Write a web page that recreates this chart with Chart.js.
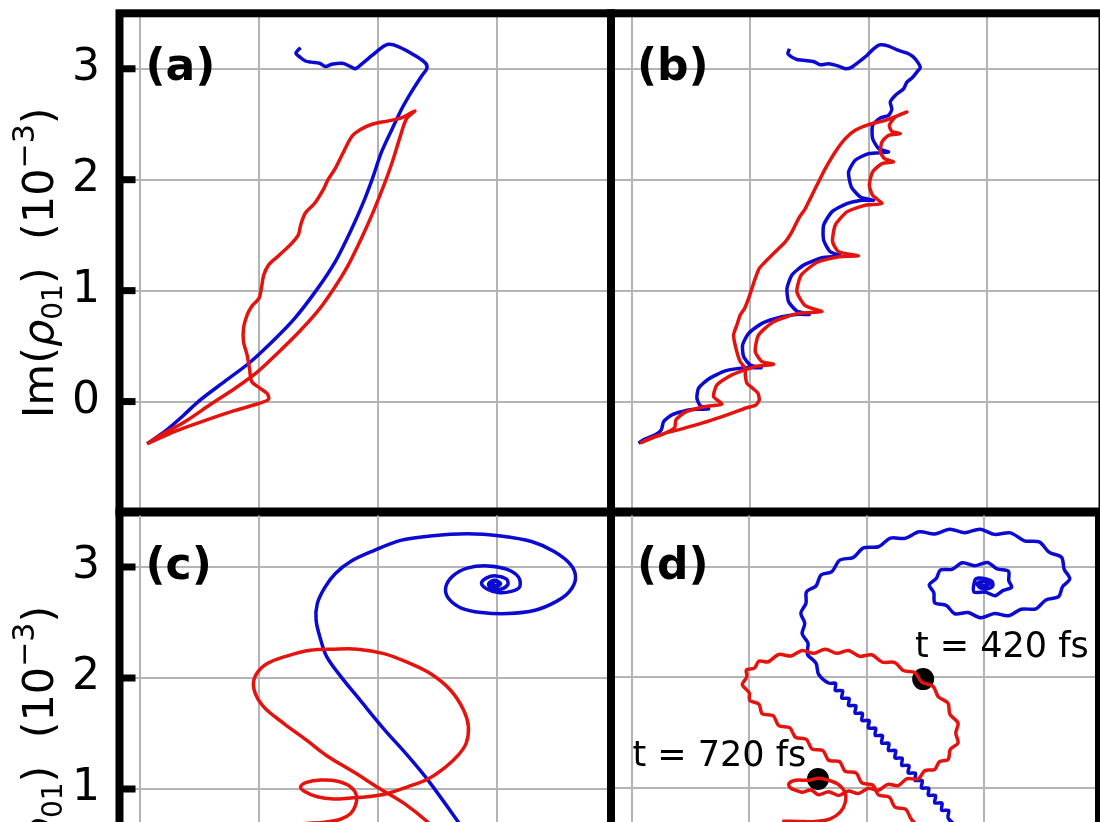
<!DOCTYPE html>
<html><head><meta charset="utf-8">
<script src="https://cdn.jsdelivr.net/npm/chart.js@4.4.1/dist/chart.umd.min.js"></script>
<style>
html,body{margin:0;padding:0;background:#fff;overflow:hidden;width:1100px;height:822px;}
#wrap{position:relative;width:1100px;height:822px;overflow:hidden;background:#fff;}
#wrap canvas{position:absolute;left:0;top:0;}
</style></head><body><div id="wrap">
<canvas id="pa" width="1110" height="1020"></canvas>
<canvas id="pb" width="1110" height="1020"></canvas>
<canvas id="pc" width="1110" height="1020"></canvas>
<canvas id="pd" width="1110" height="1020"></canvas>
</div>
<script>
// ---------- data (x: Re, y: Im(rho01) in 1e-3) ----------
const yTicks = [0, 1, 2, 3];
const xTicks = [0, 1, 2, 3];
const panelLabels = ['(a)', '(b)', '(c)', '(d)'];
const noteText = ['t = 420 fs', 't = 720 fs'];
const noteAt = [[2.41, 2.185], [0.006, 1.197]];
const dMarkers = [[2.48, 1.984], [1.585, 1.081]];

const aBlue = [[0.06,-0.38],[0.22,-0.26],[0.36,-0.13],[0.49,0.00],[0.71,0.18],[0.92,0.35],[1.13,0.56],[1.30,0.75],[1.48,1.00],[1.64,1.26],[1.78,1.56],[1.89,1.83],[1.95,2.00],[2.03,2.25],[2.12,2.46],[2.20,2.64],[2.28,2.79],[2.37,2.94],[2.41,3.00],[2.40,3.05],[2.31,3.12],[2.17,3.20],[2.09,3.22],[2.03,3.19],[1.95,3.12],[1.86,3.04],[1.81,3.00],[1.77,3.02],[1.70,3.05],[1.61,3.04],[1.56,3.02],[1.51,3.05],[1.44,3.06],[1.39,3.07],[1.35,3.10],[1.31,3.14],[1.33,3.17],[1.35,3.19]];
const aRed = [[0.06,-0.38],[0.29,-0.27],[0.52,-0.18],[0.80,-0.08],[0.99,-0.02],[1.08,0.02],[1.07,0.07],[1.01,0.12],[0.94,0.18],[0.92,0.30],[0.90,0.42],[0.87,0.54],[0.87,0.66],[0.90,0.78],[0.94,0.86],[1.00,0.93],[1.02,1.02],[1.04,1.14],[1.08,1.23],[1.16,1.31],[1.26,1.41],[1.33,1.50],[1.35,1.59],[1.39,1.70],[1.47,1.79],[1.54,1.91],[1.58,2.00],[1.64,2.10],[1.71,2.25],[1.78,2.39],[1.85,2.45],[1.95,2.50],[2.09,2.53],[2.20,2.56],[2.31,2.62],[2.24,2.55],[2.19,2.40],[2.12,2.16],[2.05,1.95],[1.96,1.71],[1.86,1.47],[1.75,1.23],[1.63,1.02],[1.49,0.81],[1.33,0.62],[1.16,0.44],[0.99,0.27],[0.80,0.12],[0.60,-0.02],[0.38,-0.18],[0.18,-0.30],[0.06,-0.38]];

const bBlue = [[0.056,-0.375],[0.113,-0.336],[0.197,-0.30],[0.248,-0.255],[0.268,-0.18],[0.338,-0.12],[0.479,-0.075],[0.648,-0.066],[0.577,-0.036],[0.549,0.03],[0.563,0.12],[0.648,0.204],[0.789,0.276],[0.958,0.306],[1.093,0.306],[1.0,0.33],[0.944,0.405],[0.935,0.51],[0.986,0.615],[1.099,0.705],[1.268,0.765],[1.408,0.786],[1.499,0.786],[1.394,0.816],[1.324,0.90],[1.31,1.02],[1.352,1.14],[1.451,1.23],[1.606,1.296],[1.761,1.314],[1.676,1.35],[1.62,1.455],[1.62,1.59],[1.69,1.71],[1.817,1.785],[1.944,1.815],[2.042,1.815],[1.93,1.845],[1.854,1.935],[1.831,2.07],[1.887,2.175],[2.0,2.235],[2.169,2.25],[2.085,2.28],[2.034,2.37],[2.034,2.49],[2.099,2.556],[2.169,2.58],[2.197,2.634],[2.183,2.70],[2.225,2.76],[2.296,2.82],[2.324,2.88],[2.366,2.916],[2.408,2.97],[2.437,3.015],[2.394,3.09],[2.338,3.135],[2.254,3.165],[2.169,3.204],[2.099,3.216],[2.042,3.18],[1.986,3.12],[1.915,3.06],[1.859,3.015],[1.803,3.0],[1.746,3.024],[1.662,3.045],[1.592,3.036],[1.535,3.066],[1.465,3.075],[1.394,3.084],[1.352,3.105],[1.318,3.135],[1.33,3.18]];
const bRed = [[0.07,-0.375],[0.141,-0.336],[0.282,-0.285],[0.423,-0.246],[0.563,-0.204],[0.704,-0.156],[0.845,-0.105],[0.958,-0.06],[1.048,-0.03],[1.076,0.015],[1.065,0.075],[1.02,0.12],[0.972,0.165],[0.958,0.24],[0.958,0.30],[0.915,0.36],[0.879,0.48],[0.859,0.60],[0.887,0.69],[0.915,0.78],[0.952,0.84],[0.986,0.93],[1.014,1.02],[1.042,1.11],[1.076,1.20],[1.127,1.26],[1.211,1.35],[1.296,1.44],[1.352,1.53],[1.408,1.65],[1.465,1.74],[1.521,1.86],[1.577,1.98],[1.634,2.10],[1.718,2.25],[1.803,2.37],[1.887,2.445],[2.0,2.496],[2.141,2.535],[2.254,2.58],[2.324,2.61],[2.225,2.565],[2.175,2.49],[2.197,2.436],[2.268,2.415],[2.169,2.40],[2.113,2.34],[2.099,2.25],[2.135,2.19],[2.211,2.16],[2.113,2.145],[2.034,2.07],[2.006,1.95],[2.034,1.86],[2.113,1.785],[1.972,1.77],[1.817,1.71],[1.718,1.59],[1.696,1.44],[1.746,1.35],[1.915,1.314],[1.746,1.305],[1.563,1.254],[1.431,1.14],[1.394,0.99],[1.465,0.864],[1.606,0.81],[1.408,0.795],[1.197,0.72],[1.07,0.60],[1.042,0.45],[1.099,0.36],[1.197,0.336],[1.042,0.315],[0.845,0.24],[0.718,0.15],[0.69,0.045],[0.761,-0.024],[0.62,-0.045],[0.451,-0.096],[0.372,-0.165],[0.361,-0.234],[0.282,-0.285],[0.169,-0.33],[0.07,-0.375]];

const cBlue = [[2.81,0.49],[2.67,0.71],[2.42,1.08],[2.25,1.30],[2.05,1.54],[1.85,1.80],[1.69,2.01],[1.57,2.19],[1.52,2.34],[1.48,2.52],[1.49,2.67],[1.55,2.81],[1.64,2.94],[1.77,3.05],[1.97,3.15],[2.19,3.24],[2.44,3.28],[2.75,3.30],[3.03,3.28],[3.29,3.23],[3.48,3.14],[3.62,3.02],[3.66,2.90],[3.61,2.78],[3.50,2.69],[3.32,2.61],[3.09,2.58],[2.87,2.59],[2.70,2.63],[2.59,2.72],[2.57,2.82],[2.63,2.92],[2.75,2.99],[2.92,3.01],[3.08,2.98],[3.18,2.91],[3.19,2.82],[3.12,2.78],[3.01,2.77],[2.92,2.80],[2.87,2.85],[2.91,2.90],[2.99,2.92],[3.08,2.89],[3.09,2.84],[3.03,2.80],[2.95,2.81],[2.93,2.85],[2.98,2.88],[3.03,2.85],[2.99,2.82],[2.96,2.84],[2.94,2.86],[2.99,2.87],[3.02,2.85],[2.98,2.83],[2.95,2.85],[2.98,2.86]];
const cRed = [[2.58,0.53],[2.42,0.70],[2.22,0.87],[2.02,1.00],[1.80,1.15],[1.57,1.30],[1.40,1.44],[1.21,1.59],[1.04,1.74],[0.96,1.89],[0.97,2.02],[1.07,2.13],[1.24,2.20],[1.43,2.25],[1.63,2.26],[1.83,2.26],[2.05,2.22],[2.25,2.14],[2.44,2.04],[2.61,1.89],[2.72,1.71],[2.76,1.56],[2.74,1.41],[2.67,1.30],[2.57,1.20],[2.42,1.09],[2.25,1.02],[2.08,0.96],[1.91,0.93],[1.77,0.92],[1.63,0.91],[1.49,0.93],[1.38,0.98],[1.35,1.02],[1.40,1.06],[1.52,1.08],[1.66,1.07],[1.77,1.02],[1.82,0.94],[1.81,0.85],[1.77,0.78],[1.69,0.73],[1.55,0.70],[1.40,0.69],[1.26,0.68]];

const dBlue = [[2.777,0.639],[2.692,0.729],[2.698,0.796],[2.636,0.799],[2.641,0.862],[2.579,0.865],[2.585,0.931],[2.523,0.934],[2.528,0.997],[2.466,1.0],[2.472,1.066],[2.410,1.069],[2.415,1.133],[2.353,1.136],[2.359,1.202],[2.297,1.205],[2.302,1.268],[2.240,1.271],[2.246,1.337],[2.184,1.340],[2.189,1.403],[2.127,1.406],[2.133,1.473],[2.071,1.476],[2.076,1.539],[2.014,1.542],[2.020,1.608],[1.958,1.611],[1.963,1.674],[1.901,1.677],[1.907,1.743],[1.845,1.746],[1.850,1.809],[1.788,1.813],[1.794,1.879],[1.732,1.882],[1.735,1.945],[1.675,1.948],[1.590,2.028],[1.568,2.128],[1.495,2.209],[1.500,2.309],[1.450,2.394],[1.472,2.489],[1.439,2.580],[1.483,2.670],[1.487,2.774],[1.568,2.826],[1.610,2.926],[1.703,2.956],[1.770,3.060],[1.887,3.085],[1.972,3.171],[2.099,3.181],[2.202,3.259],[2.325,3.257],[2.447,3.316],[2.579,3.296],[2.706,3.340],[2.833,3.308],[2.965,3.340],[3.088,3.293],[3.224,3.307],[3.342,3.235],[3.468,3.225],[3.554,3.130],[3.658,3.086],[3.681,2.977],[3.728,2.891],[3.667,2.820],[3.633,2.730],[3.525,2.700],[3.440,2.620],[3.314,2.616],[3.205,2.557],[3.088,2.577],[2.970,2.539],[2.862,2.586],[2.749,2.575],[2.678,2.649],[2.579,2.675],[2.571,2.766],[2.532,2.835],[2.593,2.896],[2.627,2.971],[2.726,2.977],[2.814,3.036],[2.918,3.010],[3.027,3.039],[3.110,2.980],[3.206,2.960],[3.209,2.874],[3.233,2.815],[3.158,2.784],[3.092,2.739],[3.008,2.772],[2.913,2.771],[2.912,2.841],[2.932,2.893],[3.008,2.893],[3.065,2.868],[3.073,2.826],[3.025,2.802],[2.960,2.814],[2.941,2.850],[2.989,2.868],[3.037,2.844],[2.997,2.823],[2.969,2.844],[2.955,2.862],[3.005,2.876],[3.050,2.850],[3.010,2.828],[2.965,2.836],[2.985,2.856]];
const dRed = [[2.551,0.534],[2.381,0.714],[2.333,0.805],[2.240,0.826],[2.192,0.916],[2.099,0.937],[2.051,1.027],[1.958,1.045],[1.909,1.136],[1.816,1.151],[1.768,1.238],[1.675,1.250],[1.627,1.337],[1.534,1.352],[1.486,1.439],[1.393,1.458],[1.344,1.545],[1.251,1.563],[1.203,1.653],[1.110,1.671],[1.082,1.758],[1.003,1.791],[1.000,1.860],[0.941,1.933],[0.980,2.006],[0.975,2.068],[1.044,2.083],[1.082,2.146],[1.162,2.141],[1.251,2.207],[1.355,2.193],[1.449,2.243],[1.548,2.217],[1.647,2.255],[1.746,2.217],[1.845,2.243],[1.939,2.190],[2.042,2.204],[2.132,2.138],[2.240,2.134],[2.311,2.062],[2.410,2.044],[2.466,1.959],[2.565,1.918],[2.608,1.826],[2.692,1.767],[2.707,1.667],[2.777,1.587],[2.758,1.497],[2.777,1.406],[2.712,1.350],[2.692,1.256],[2.617,1.235],[2.579,1.166],[2.495,1.156],[2.438,1.081],[2.343,1.083],[2.268,1.021],[2.179,1.032],[2.099,0.979],[2.014,0.996],[1.929,0.949],[1.845,0.972],[1.760,0.931],[1.675,0.966],[1.590,0.937],[1.525,0.981],[1.449,0.961],[1.393,0.979],[1.350,1.0],[1.336,1.036],[1.393,1.069],[1.506,1.069],[1.590,1.087],[1.675,1.069],[1.760,1.030],[1.816,0.955],[1.816,0.865],[1.774,0.781],[1.689,0.720],[1.562,0.696],[1.421,0.696],[1.280,0.699]];

// ---------- styling / layout ----------
const BLUE = '#0a0ad2', RED = '#e5130e', GRID = '#b4b4b4';
const toPts = arr => arr.map(([x, y]) => ({x, y}));

const framePlugin = {
  id: 'frame',
  afterDatasetsDraw(chart, args, o) {
    const ctx = chart.ctx, ca = chart.chartArea;
    const ys = chart.scales.y, xs = chart.scales.x;
    ctx.save();
    ctx.strokeStyle = '#000';
    if (o.left) {
      ctx.lineWidth = 7;
      yTicks.forEach(v => {
        const py = ys.getPixelForValue(v);
        ctx.beginPath(); ctx.moveTo(ca.left, py); ctx.lineTo(ca.left + 16, py); ctx.stroke();
      });
    }
    ctx.lineWidth = 8;
    ctx.strokeRect(ca.left, ca.top, ca.right - ca.left, ca.bottom - ca.top);
    ctx.fillStyle = '#000';
    ctx.textAlign = 'left'; ctx.textBaseline = 'alphabetic';
    ctx.font = 'bold 44px "DejaVu Sans"';
    ctx.fillText(o.label, ca.left + 26, ca.top + 67);
    if (o.notes) {
      ctx.font = '35px "DejaVu Sans"';
      noteText.forEach((t, i) => {
        ctx.fillText(t, xs.getPixelForValue(noteAt[i][0]), ys.getPixelForValue(noteAt[i][1]));
      });
    }
    if (o.left) {
      // y-axis label: Im(rho_01)  (10^-3)
      const parts = [
        ['Im(', '43px "DejaVu Sans"', 0],
        ['\u03C1', 'italic 43px "DejaVu Sans"', 0],
        ['01', '28px "DejaVu Sans"', 9],
        [')', '43px "DejaVu Sans"', 0],
        ['  (10', '43px "DejaVu Sans"', 0],
        ['\u22123', '30px "DejaVu Sans"', -19],
        [')', '43px "DejaVu Sans"', 0]
      ];
      let total = 0;
      parts.forEach(p => { ctx.font = p[1]; total += ctx.measureText(p[0]).width; });
      const cy = (ca.top + ca.bottom) / 2;
      ctx.translate(53, cy);
      ctx.rotate(-Math.PI / 2);
      let x = -total / 2;
      parts.forEach(p => { ctx.font = p[1]; ctx.fillText(p[0], x, p[2]); x += ctx.measureText(p[0]).width; });
    }
    ctx.restore();
  }
};

function lineSet(arr, color, order, tension) {
  return { data: toPts(arr), showLine: true, borderColor: color, borderWidth: 3.5,
           pointRadius: 0, tension: tension, order: order, fill: false };
}

function noPad(s) { s.paddingTop = 0; s.paddingBottom = 0; s.paddingLeft = 0; s.paddingRight = 0; }

function makePanel(id, p) {
  return new Chart(document.getElementById(id), {
    type: 'scatter',
    data: { datasets: p.datasets },
    options: {
      responsive: false, animation: false, events: [],
      layout: { padding: p.pad },
      plugins: { legend: { display: false }, tooltip: { enabled: false },
                 frame: { left: p.left, label: p.label, notes: p.notes } },
      scales: {
        x: { type: 'linear', min: p.xr[0], max: p.xr[1],
             afterBuildTicks: s => { s.ticks = xTicks.map(v => ({value: v})); },
             ticks: { display: false },
             grid: { color: GRID, lineWidth: 2, drawTicks: false },
             border: { display: false },
             afterFit: s => { s.height = 0; noPad(s); } },
        y: { type: 'linear', min: -1, max: 3.5,
             afterBuildTicks: s => { s.ticks = yTicks.map(v => ({value: v})); },
             ticks: { display: p.left, color: '#000', padding: 19.5, autoSkip: false, maxRotation: 0,
                      font: { family: 'DejaVu Sans', size: 44 } },
             grid: { color: GRID, lineWidth: 2, drawTicks: false },
             border: { display: false },
             afterFit: s => { s.width = p.left ? 119.5 : 0; noPad(s); } }
      }
    },
    plugins: [framePlugin]
  });
}

const XR_L = [-0.172, 3.958], XR_R = [-0.177, 3.977];
makePanel('pa', { left: true, label: panelLabels[0], xr: XR_L,
  pad: { left: 0, right: 499, top: 13.3, bottom: 507.5 },
  datasets: [lineSet(aBlue, BLUE, 2, 0.3), lineSet(aRed, RED, 1, 0.3)] });
makePanel('pb', { left: false, label: panelLabels[1], xr: XR_R,
  pad: { left: 611, right: 7.5, top: 13.3, bottom: 507.5 },
  datasets: [lineSet(bBlue, BLUE, 2, 0.2), lineSet(bRed, RED, 1, 0.2)] });
makePanel('pc', { left: true, label: panelLabels[2], xr: XR_L,
  pad: { left: 0, right: 499, top: 511.5, bottom: 9 },
  datasets: [lineSet(cBlue, BLUE, 2, 0.35), lineSet(cRed, RED, 1, 0.35)] });
makePanel('pd', { left: false, label: panelLabels[3], xr: XR_R, notes: true,
  pad: { left: 611, right: 7.5, top: 511.5, bottom: 9 },
  datasets: [
    { data: toPts(dMarkers), showLine: false, pointRadius: 11, pointBackgroundColor: '#000',
      pointBorderColor: '#000', pointBorderWidth: 0, order: 3 },
    lineSet(dBlue, BLUE, 2, 0.3), lineSet(dRed, RED, 1, 0.3)] });
</script>
</body></html>
